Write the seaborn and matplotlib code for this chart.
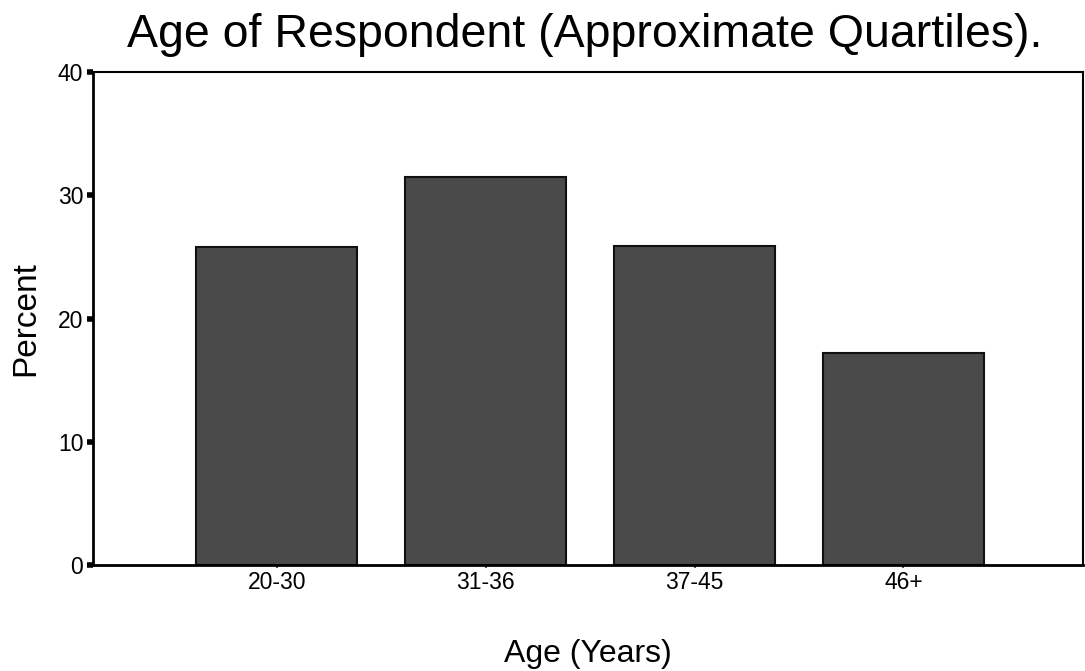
import matplotlib
matplotlib.use("Agg")
import matplotlib.pyplot as plt
import seaborn as sns
import pandas as pd

categories = ["20-30", "31-36", "37-45", "46+"]
percent = [25.8, 31.5, 25.9, 17.2]
yticks = [0, 10, 20, 30, 40]

sns.set_theme(style="white")
plt.rcParams['font.family'] = ['Liberation Sans', 'DejaVu Sans']
plt.rcParams['text.color'] = 'black'
plt.rcParams['axes.labelcolor'] = 'black'
plt.rcParams['xtick.color'] = 'black'
plt.rcParams['ytick.color'] = 'black'

df = pd.DataFrame({"age": categories, "pct": percent})

fig = plt.figure(figsize=(10.85, 6.71), dpi=100)
ax = fig.add_axes([93/1085, 1-565/671, (1083-93)/1085, (565-72)/671])

sns.barplot(data=df, x="age", y="pct", ax=ax, color="#4a4a4a",
            saturation=1, width=0.77, edgecolor="#111111", linewidth=1.5)

ax.set_xlim(-0.88, 3.86)
ax.set_ylim(0, 40)
ax.set_yticks(yticks)
ax.set_yticklabels([str(t) for t in yticks], fontsize=16.5)
ax.tick_params(axis='y', length=4, width=4, color='black', pad=3, direction='out', left=True)
ax.tick_params(axis='x', length=2, width=1.5, color='#555555', pad=2, labelsize=16.5, bottom=True)

for s in ["left", "bottom"]:
    ax.spines[s].set_linewidth(2)
    ax.spines[s].set_color("black")
for s in ["top", "right"]:
    ax.spines[s].set_linewidth(1.5)
    ax.spines[s].set_color("black")
    ax.spines[s].set_visible(True)

ax.set_xlabel("Age (Years)", fontsize=23, labelpad=33)
ax.set_ylabel("Percent", fontsize=24, labelpad=12)
fig.text(585/1085, 1-47/671, "Age of Respondent (Approximate Quartiles).", fontsize=33.5,
         ha="center", va="baseline")

fig.savefig("out.png", dpi=100, facecolor="white")
